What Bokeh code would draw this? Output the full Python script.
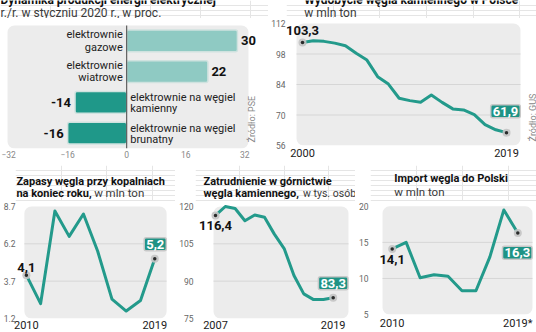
from bokeh.plotting import figure
from bokeh.layouts import column, row
from bokeh.models import Label, FixedTicker, Range1d
from bokeh.embed import file_html
from bokeh.resources import INLINE

# ---------------- data ----------------
energy_categories = ["elektrownie\ngazowe", "elektrownie\nwiatrowe",
                     "elektrownie na węgiel\nkamienny", "elektrownie na węgiel\nbrunatny"]
energy_change = [30, 22, -14, -16]
energy_ticks = [-32, -16, 0, 16, 32]

mining_years = list(range(2000, 2020))
mining_output = [103.3, 104.1, 103.8, 103.0, 101.8, 98.3, 95.2, 87.6, 84.2, 77.7,
                 76.6, 75.9, 79.2, 75.8, 72.8, 72.3, 70.2, 65.6, 63.2, 61.9]
mining_ticks = [56, 70, 84, 98, 112]

stock_years = list(range(2010, 2020))
stock_values = [4.1, 2.2, 8.4, 6.7, 8.2, 5.7, 2.5, 1.7, 2.4, 5.2]
stock_ticks = [1.2, 3.7, 6.2, 8.7]

employment_years = list(range(2007, 2020))
employment_values = [116.4, 120.0, 119.2, 114.3, 116.6, 115.7, 108.9, 103.1, 92.3,
                     84.9, 82.6, 82.6, 83.3]
employment_ticks = [75, 90, 105, 120]

import_years = list(range(2010, 2020))
import_values = [14.1, 15.0, 10.1, 10.5, 10.3, 8.3, 8.3, 13.0, 19.5, 16.3]
import_ticks = [5, 10, 15, 20]
import_year_labels = {2019: "2019*"}

# ---------------- styles ----------------
FONT = "Roboto"
TEAL = "#239a8b"
LIGHT_TEAL = "#8fcac3"
DARK_BAR = "#1f9889"
BOX = "#1f9385"
PANEL_BG = "#ececec"
GRID = "#d6d6d6"
SUB = "#3a3a3a"


def fmt(v):
    return f"{v:.1f}".replace(".", ",")


def rng(a, pa, b, pb, lo, hi):
    s = (b - a) / (pb - pa)
    return a + (lo - pa) * s, a + (hi - pa) * s


def style_axis(ax, size, color, standoff):
    ax.axis_line_color = None
    ax.major_tick_line_color = None
    ax.minor_tick_line_color = None
    ax.major_tick_out = 0
    ax.major_tick_in = 0
    ax.minor_tick_out = 0
    ax.minor_tick_in = 0
    ax.major_label_text_font = FONT
    ax.major_label_text_font_size = size
    ax.major_label_text_color = color
    ax.major_label_standoff = standoff


def make_label(x, y, text, size, bold=False, color="#111111", align="left",
               baseline="middle", angle=0, **kw):
    return Label(x=x, y=y, text=text, text_font=FONT, text_font_size=f"{size}px",
                 text_font_style="bold" if bold else "normal", text_color=color,
                 text_align=align, text_baseline=baseline, angle=angle,
                 angle_units="deg", **kw)


def title_fig(w, h, items):
    p = figure(width=w, height=h, x_range=Range1d(0, w), y_range=Range1d(h, 0),
               output_backend="svg", toolbar_location=None, title=None,
               x_axis_location=None, y_axis_location=None,
               min_border_left=0, min_border_right=0, min_border_top=0, min_border_bottom=0)
    p.outline_line_color = None
    p.border_fill_color = "white"
    p.background_fill_color = "white"
    for x, y, text, bold, size in items:
        p.add_layout(make_label(x, y, text, size, bold=bold,
                                color="#111111" if bold else SUB))
    return p


class Panel:
    def __init__(self, w, h, frame, xa, ya, bg, x_axis=True, y_axis=True):
        self.fl, self.fr, self.ft, self.fb = frame
        self.x0, self.x1 = rng(*xa, self.fl, self.fr)
        top, bottom = rng(*ya, self.ft, self.fb)
        self.y0, self.y1 = bottom, top
        p = figure(width=w, height=h, x_range=Range1d(self.x0, self.x1),
                   y_range=Range1d(self.y0, self.y1),
                   output_backend="svg", toolbar_location=None, title=None,
                   x_axis_location="below" if x_axis else None,
                   y_axis_location="left" if y_axis else None,
                   min_border_left=self.fl, min_border_right=w - self.fr,
                   min_border_top=self.ft, min_border_bottom=h - self.fb)
        p.outline_line_color = None
        p.border_fill_color = "white"
        p.background_fill_color = "white"
        p.xgrid.visible = False
        p.ygrid.visible = False
        bl, br, bt, bb = bg
        self.bx0, self.bx1 = self.dx(bl), self.dx(br)
        self.by0, self.by1 = self.dy(bb), self.dy(bt)
        p.quad(left=[self.bx0], right=[self.bx1], bottom=[self.by0], top=[self.by1],
               fill_color=PANEL_BG, line_color=None, border_radius=7, level="image")
        self.p = p

    def dx(self, px):
        return self.x0 + (px - self.fl) / (self.fr - self.fl) * (self.x1 - self.x0)

    def dy(self, py):
        return self.y1 - (py - self.ft) / (self.fb - self.ft) * (self.y1 - self.y0)

    def ox(self, x, off):
        return x + off * (self.x1 - self.x0) / (self.fr - self.fl)

    def oy(self, y, off):
        return y + off * (self.y1 - self.y0) / (self.fb - self.ft)

    def label(self, x, y, text, size, **kw):
        self.p.add_layout(make_label(x, y, text, size, **kw))


# ---------------- panel 1: energy bars ----------------
n = len(energy_change)
e = Panel(268, 147, (0, 268, 0, 130), (-32.3, 7, 33.0, 248), (n, 7, 0, 130),
          (7, 248, 7, 130), y_axis=False)
p1 = e.p
ypos = [n - i - 0.5 for i in range(n)]
colors = [LIGHT_TEAL if v > 0 else DARK_BAR for v in energy_change]
p1.hbar(y=ypos, left=0, right=energy_change, height=0.7, fill_color=colors,
        line_color="#cfe2df", line_width=1.5, border_radius=2)
p1.segment(x0=[0], y0=[0], x1=[0], y1=[n], line_color="#444444", line_width=1)
p1.xaxis.ticker = FixedTicker(ticks=energy_ticks)
style_axis(p1.xaxis[0], "8.5px", "#888888", 2)

for cat, v, yc in zip(energy_categories, energy_change, ypos):
    l1, l2 = cat.split("\n")
    if v > 0:
        xa, al = e.ox(0, -4), "right"
        ya, yb = e.oy(yc, 6), e.oy(yc, -6.3)
        xv, alv = e.ox(v, 3.5), "left"
    else:
        xa, al = e.ox(0, 3.5), "left"
        ya, yb = e.oy(yc, 4.8), e.oy(yc, -6.3)
        xv, alv = e.ox(v, -4), "right"
    e.label(xa, ya, l1, 11, color="#222222", align=al)
    e.label(xa, yb, l2, 11, color="#222222", align=al)
    e.label(xv, yc, str(v), 13, bold=True, align=alv)

e.label(e.dx(251), e.dy(124), "Źródło: PSE", 9, color="#888888", angle=90)
t1 = title_fig(268, 18, [(0, -0.7, "Dynamika produkcji energii elektrycznej", True, 12),
                         (0, 12, "r./r. w styczniu 2020 r., w proc.", False, 12)])


# ---------------- line panels ----------------
def line_panel(w, h, frame, xa, ya, bg, years, values, ticks, y_standoff, x_standoff,
               first_off, last_off, overrides=None):
    lp = Panel(w, h, frame, xa, ya, bg)
    p = lp.p
    inner = ticks[1:-1]
    p.segment(x0=[lp.bx0] * len(inner), x1=[lp.bx1] * len(inner), y0=inner, y1=inner,
              line_color=GRID, line_width=1, level="underlay")
    p.yaxis.ticker = FixedTicker(ticks=ticks)
    style_axis(p.yaxis[0], "8.5px", "#666666", y_standoff)
    p.xaxis.ticker = FixedTicker(ticks=[years[0], years[-1]])
    if overrides:
        p.xaxis.major_label_overrides = overrides
    style_axis(p.xaxis[0], "11px", "#1a1a1a", x_standoff)
    p.line(years, values, line_color=TEAL, line_width=3, line_join="round", line_cap="round")
    ex = [years[0], years[-1]]
    ey = [values[0], values[-1]]
    p.scatter(ex, ey, size=8, fill_color="#c4c4c4", fill_alpha=0.9, line_color=None)
    p.scatter(ex, ey, size=3.5, fill_color="#2a2a2a", line_color=None)
    lp.label(lp.ox(years[0], first_off[0]), lp.oy(values[0], first_off[1]), fmt(values[0]),
             13, bold=True, align="center")
    lp.label(lp.ox(years[-1], last_off[0]), lp.oy(values[-1], last_off[1]), fmt(values[-1]),
             13, bold=True, color="white", align="center",
             background_fill_color=BOX, border_line_color="#c8c8c8",
             border_line_width=1.5, padding=2, border_radius=2)
    return lp


m = line_panel(268, 147, (18, 268, 0, 127), (2000, 34, 2019, 238), (112, 5, 56, 127),
               (28, 252, 5, 127), mining_years, mining_output, mining_ticks, 1, 3,
               (0, 12), (-1, 21.5))
m.label(m.dx(264), m.dy(123), "Źródło: GUS", 9, color="#888888", angle=90)
t2 = title_fig(268, 18, [(19, -0.7, "Wydobycie węgla kamiennego w Polsce", True, 12),
                         (19, 12, "w mln ton", False, 12)])

s = line_panel(175, 131, (13, 175, 0, 117), (2010, 24, 2019, 154), (8.7, 5, 1.2, 117),
               (22, 166, 5, 117), stock_years, stock_values, stock_ticks, 0, 2,
               (0, 7.5), (0.5, 14.5))
t3 = title_fig(175, 36, [(1, 16, "Zapasy węgla przy kopalniach", True, 11),
                         (1, 28, "na koniec roku,", True, 11),
                         (86, 27.8, "w mln ton", False, 11.5)])

z = line_panel(180, 131, (20, 180, 0, 117), (2007, 40, 2019, 157.7), (120, 5, 75, 117),
               (38, 173, 5, 117), employment_years, employment_values, employment_ticks,
               2, 2, (0, -10.5), (0, 14.5))
t4 = title_fig(180, 36, [(9, 15.7, "Zatrudnienie w górnictwie", True, 11),
                         (9, 27.7, "węgla kamiennego,", True, 11),
                         (121, 27.7, "w tys. osób", False, 10.5)])

im = line_panel(181, 131, (15, 181, 0, 117), (2010, 36.7, 2019, 162.3), (20, 5, 5, 117),
                (27, 177, 5, 117), import_years, import_values, import_ticks, 2, 2,
                (0, -11), (-0.5, -20.5), overrides=import_year_labels)
t5 = title_fig(181, 36, [(26, 13.3, "Import węgla do Polski", True, 11),
                         (26, 26.5, "w mln ton", False, 11.5)])

layout = column(
    row(column(t1, e.p), column(t2, m.p)),
    row(column(t3, s.p), column(t4, z.p), column(t5, im.p)),
)

open("out.html", "w").write(file_html(layout, INLINE))
